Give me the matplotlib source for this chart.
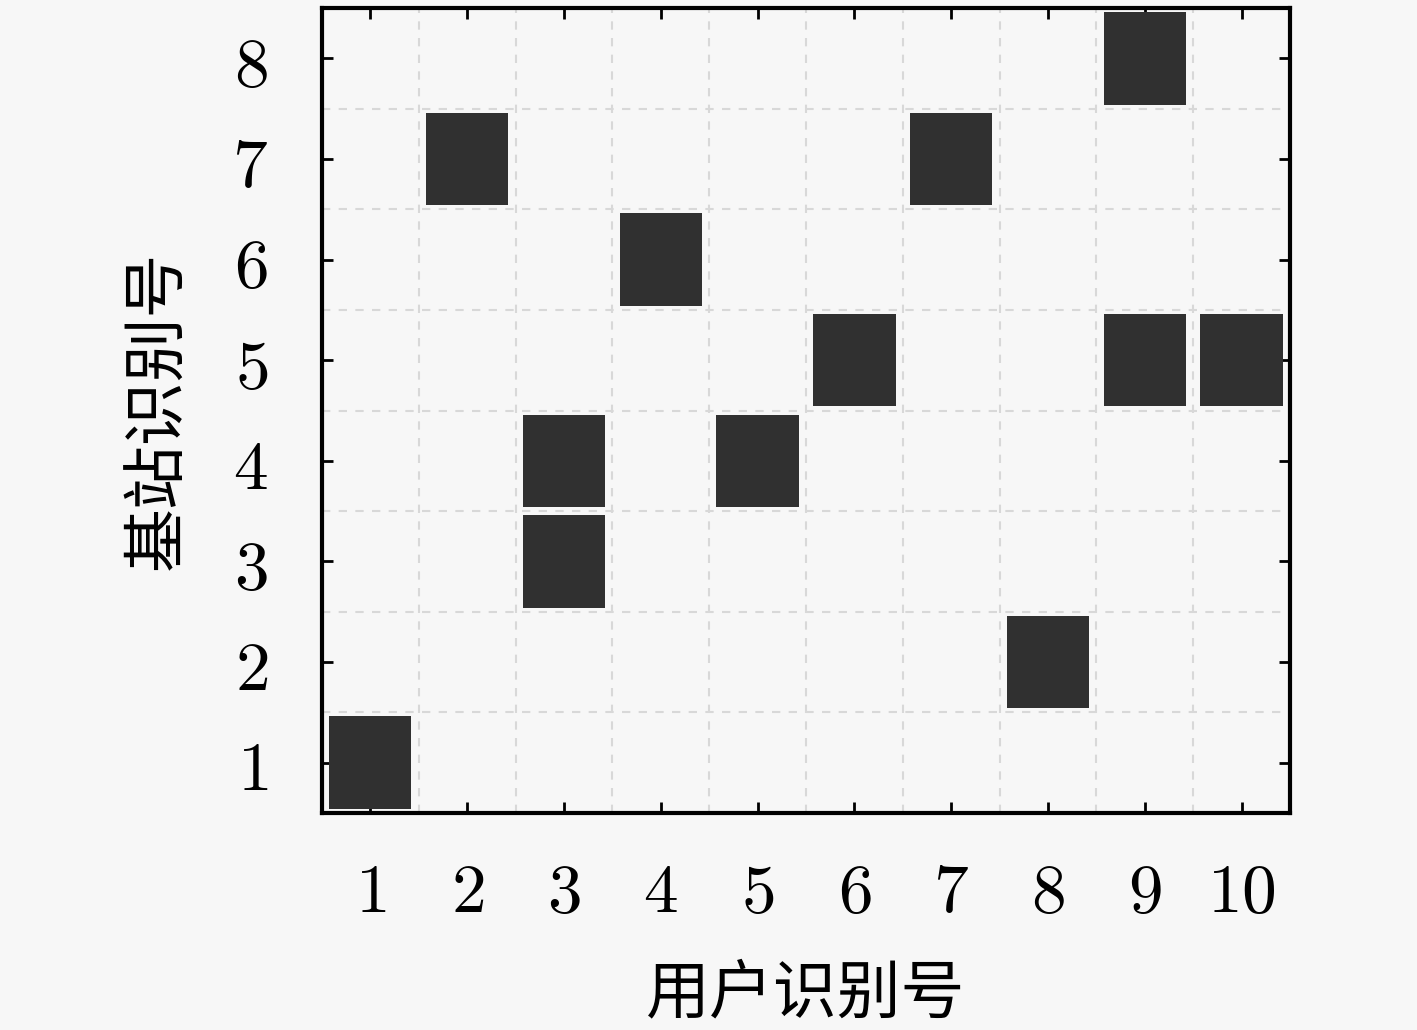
import matplotlib
matplotlib.use("Agg")
import matplotlib.pyplot as plt
from matplotlib.patches import Rectangle

# user id -> base station id of each assignment
user_ids = [1, 2, 3, 3, 4, 5, 6, 7, 8, 9, 9, 10]
station_ids = [1, 7, 4, 3, 6, 4, 5, 7, 2, 8, 5, 5]
x_ticks = list(range(1, 11))
y_ticks = list(range(1, 9))

plt.rcParams['mathtext.fontset'] = 'cm'
plt.rcParams['font.family'] = ['Noto Sans CJK SC', 'DejaVu Sans']

bg = "#f7f7f7"
fig = plt.figure(figsize=(14.17, 10.30), dpi=100, facecolor=bg)
ax = fig.add_axes([0.2272, 0.2107, 0.9104 - 0.2272, 0.9922 - 0.2107])
ax.set_facecolor(bg)

w, h = 0.85, 0.92
for u, s in zip(user_ids, station_ids):
    ax.add_patch(Rectangle((u - w / 2, s - h / 2), w, h,
                           facecolor="#303030", edgecolor="none", zorder=3))

ax.set_xlim(0.5, 10.5)
ax.set_ylim(0.5, 8.5)
ax.set_xticks(x_ticks)
ax.set_yticks(y_ticks)
ax.set_xticklabels([f"${t}$" for t in x_ticks], fontsize=50)
ax.set_yticklabels([f"${t}$" for t in y_ticks], fontsize=50)

# grid on cell boundaries
ax.set_xticks([t + 0.5 for t in x_ticks[:-1]], minor=True)
ax.set_yticks([t + 0.5 for t in y_ticks[:-1]], minor=True)
ax.grid(which="minor", color="#d8d8d8", linestyle=(0, (4, 4)), linewidth=1.5)
ax.tick_params(which="minor", length=0)
ax.tick_params(which="major", direction="in", length=8, width=2,
               top=True, right=True)
ax.tick_params(axis="x", pad=31)
ax.tick_params(axis="y", pad=39)

for sp in ax.spines.values():
    sp.set_linewidth(3)

ax.set_xlabel("用户识别号", fontsize=46, labelpad=24)
ax.set_ylabel("基站识别号", fontsize=46, labelpad=29)

fig.savefig("out.png", dpi=100, facecolor=bg)
